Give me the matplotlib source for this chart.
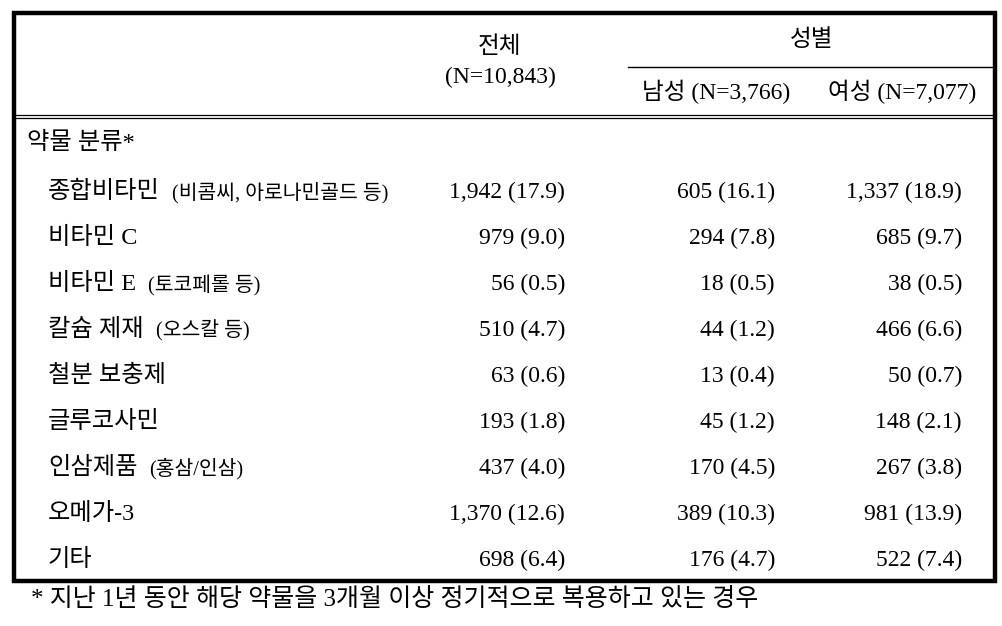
import matplotlib
matplotlib.use("Agg")
import matplotlib.pyplot as plt

plt.rcParams['font.family'] = ['Liberation Serif', 'Noto Sans CJK KR', 'DejaVu Sans']

# table content
row_main = ['종합비타민', '비타민 C', '비타민 E', '칼슘 제재', '철분 보충제',
            '글루코사민', '인삼제품', '오메가-3', '기타']
row_sub = ['(비콤씨, 아로나민골드 등)', '', '(토코페롤 등)', '(오스칼 등)', '',
           '', '(홍삼/인삼)', '', '']
total_n = [1942, 979, 56, 510, 63, 193, 437, 1370, 698]
total_pct = [17.9, 9.0, 0.5, 4.7, 0.6, 1.8, 4.0, 12.6, 6.4]
male_n = [605, 294, 18, 44, 13, 45, 170, 389, 176]
male_pct = [16.1, 7.8, 0.5, 1.2, 0.4, 1.2, 4.5, 10.3, 4.7]
female_n = [1337, 685, 38, 466, 50, 148, 267, 981, 522]
female_pct = [18.9, 9.7, 0.5, 6.6, 0.7, 2.1, 3.8, 13.9, 7.4]

header_total = ['전체', '(N=10,843)']
header_sex = '성별'
header_male = '남성 (N=3,766)'
header_female = '여성 (N=7,077)'
section_title = '약물 분류*'
footnote = '* 지난 1년 동안 해당 약물을 3개월 이상 정기적으로 복용하고 있는 경우'

W, H = 1002, 626
fig = plt.figure(figsize=(W / 100, H / 100), dpi=100)
ax = fig.add_axes([0, 0, 1, 1])
ax.set_xlim(0, W)
ax.set_ylim(H, 0)
ax.axis('off')

fs = 17
fs_label = 17.5
fs_sub = 14.7

# frame
ax.add_patch(plt.Rectangle((14.5, 12.5), 980.5, 568, fill=False, lw=3.2, color='black'))
ax.plot([16, 993], [114.8, 114.8], color='black', lw=0.9)
ax.plot([16, 993], [117.6, 117.6], color='black', lw=0.9)
ax.plot([628, 993], [67, 67], color='black', lw=1.0)

# header
ax.text(500, 47, header_total[0], ha='center', va='center', fontsize=fs)
ax.text(500, 77, header_total[1], ha='center', va='center', fontsize=fs)
ax.text(812, 40, header_sex, ha='center', va='center', fontsize=fs)
ax.text(716, 92, header_male, ha='center', va='center', fontsize=fs)
ax.text(902, 92, header_female, ha='center', va='center', fontsize=fs)
ax.text(27, 143, section_title, ha='left', va='center', fontsize=fs_label)

fig.canvas.draw()
renderer = fig.canvas.get_renderer()
inv = ax.transData.inverted()

y0, dy = 192, 46
for i in range(len(row_main)):
    y = y0 + i * dy
    t = ax.text(48, y, row_main[i], ha='left', va='center', fontsize=fs_label)
    if row_sub[i]:
        bb = t.get_window_extent(renderer)
        x_end = inv.transform((bb.x1, 0))[0]
        ax.text(x_end + 12, y + 1, row_sub[i], ha='left', va='center', fontsize=fs_sub)
    ax.text(565, y, f'{total_n[i]:,} ({total_pct[i]:.1f})', ha='right', va='center', fontsize=fs)
    ax.text(775, y, f'{male_n[i]:,} ({male_pct[i]:.1f})', ha='right', va='center', fontsize=fs)
    ax.text(962, y, f'{female_n[i]:,} ({female_pct[i]:.1f})', ha='right', va='center', fontsize=fs)

ax.text(31, 600, footnote, ha='left', va='center', fontsize=18)

fig.savefig('out.png', dpi=100)
